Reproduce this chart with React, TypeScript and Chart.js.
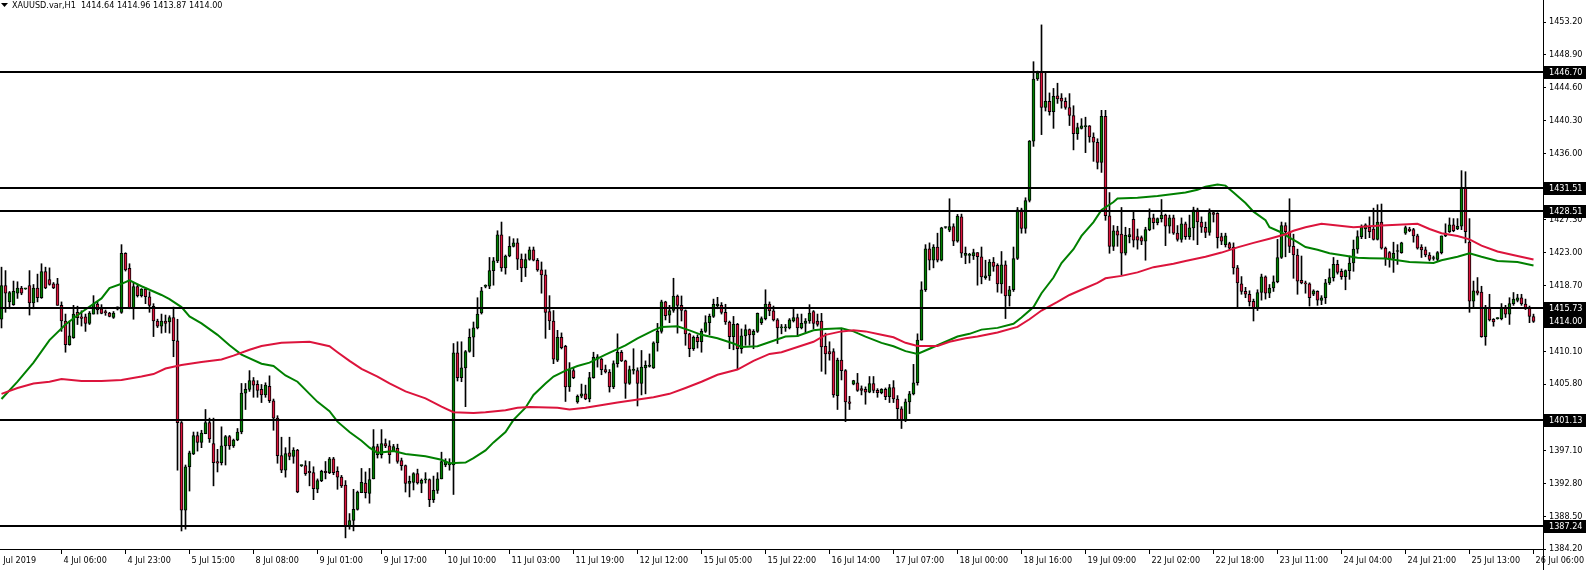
import React, { useEffect, useRef } from 'react';
import { Chart, registerables } from 'chart.js';

Chart.register(...registerables);

const FONT = '"DejaVu Sans Condensed", "DejaVu Sans", sans-serif';
const FONT_SIZE = 9;
const TITLE = 'XAUUSD.var,H1  1414.64 1414.96 1413.87 1414.00';

// Hourly candles, oldest first
const opens = [
  1414.29, 1418.70, 1416.56, 1416.20, 1417.70, 1418.38, 1418.27, 1418.70, 1416.43, 1418.38, 1417.11, 1420.52, 1419.47, 1418.93, 1418.93, 1416.11,
  1414.06, 1410.97, 1411.88, 1415.20, 1414.60, 1414.60, 1413.75, 1414.97, 1416.29, 1415.66, 1415.20, 1415.10, 1414.52, 1415.60, 1415.20, 1422.93,
  1420.97, 1415.75, 1418.56, 1417.38, 1418.25, 1417.24, 1415.97, 1414.06, 1413.38, 1414.06, 1413.93, 1414.52, 1411.47, 1400.75, 1389.29, 1394.97,
  1396.65, 1399.06, 1398.16, 1399.29, 1400.75, 1398.02, 1395.66, 1395.52, 1397.70, 1398.93, 1397.70, 1398.47, 1399.52, 1404.61, 1405.11, 1406.25,
  1405.75, 1405.11, 1404.38, 1405.52, 1403.61, 1401.34, 1396.43, 1394.52, 1396.79, 1396.34, 1397.16, 1395.11, 1395.11, 1394.38, 1394.20, 1392.02,
  1393.16, 1394.38, 1394.20, 1396.02, 1394.38, 1393.61, 1392.57, 1387.25, 1387.93, 1389.38, 1391.57, 1392.84, 1391.48, 1393.38, 1397.61, 1396.57,
  1398.02, 1397.70, 1397.02, 1397.38, 1395.79, 1395.11, 1392.79, 1392.93, 1394.07, 1392.79, 1393.25, 1393.29, 1390.66, 1391.88, 1393.38, 1395.20,
  1395.20, 1395.20, 1409.88, 1406.65, 1407.93, 1410.07, 1411.93, 1413.16, 1415.11, 1418.60, 1418.61, 1420.66, 1421.93, 1425.34, 1421.02, 1422.57,
  1423.84, 1424.29, 1422.16, 1421.02, 1422.11, 1423.38, 1422.02, 1420.75, 1420.11, 1415.29, 1414.06, 1408.93, 1411.93, 1410.75, 1405.43, 1407.57,
  1403.47, 1404.20, 1404.52, 1403.84, 1406.65, 1409.07, 1409.07, 1407.70, 1407.38, 1405.43, 1408.47, 1409.97, 1408.84, 1405.88, 1407.60, 1407.57,
  1405.88, 1407.93, 1408.11, 1407.93, 1411.20, 1412.70, 1416.56, 1414.84, 1415.43, 1417.34, 1416.11, 1415.43, 1412.38, 1410.43, 1411.93, 1411.34,
  1412.70, 1413.84, 1414.66, 1416.02, 1416.11, 1415.20, 1413.93, 1412.02, 1413.61, 1410.43, 1412.11, 1412.93, 1412.25, 1412.70, 1413.84, 1414.38,
  1416.29, 1415.38, 1414.20, 1413.16, 1413.16, 1413.16, 1414.06, 1414.52, 1413.16, 1413.75, 1414.06, 1415.29, 1414.06, 1414.06, 1410.75, 1410.06,
  1410.06, 1404.29, 1408.93, 1407.57, 1403.47, 1405.79, 1405.97, 1405.20, 1405.11, 1404.75, 1405.88, 1404.98, 1404.66, 1405.11, 1404.16, 1405.34,
  1403.84, 1402.57, 1401.11, 1403.47, 1404.52, 1405.97, 1411.56, 1418.15, 1423.52, 1422.02, 1423.75, 1422.02, 1426.30, 1425.97, 1426.43, 1424.52,
  1427.70, 1422.66, 1422.66, 1422.57, 1423.02, 1422.47, 1419.75, 1419.97, 1421.79, 1421.34, 1418.93, 1421.43, 1417.34, 1418.15, 1422.25, 1428.61,
  1426.20, 1429.84, 1437.61, 1445.75, 1446.70, 1442.02, 1442.84, 1441.47, 1443.56, 1443.25, 1442.84, 1442.02, 1440.97, 1438.61, 1439.29, 1439.52,
  1439.61, 1438.16, 1437.47, 1434.84, 1440.88, 1427.84, 1423.84, 1425.88, 1425.43, 1422.93, 1425.11, 1427.38, 1425.11, 1424.97, 1424.52, 1426.02,
  1427.56, 1426.93, 1427.47, 1427.93, 1426.47, 1427.56, 1425.56, 1424.75, 1426.79, 1425.11, 1426.25, 1428.61, 1427.02, 1426.34, 1425.65, 1428.25,
  1428.15, 1425.11, 1424.06, 1424.20, 1423.75, 1421.02, 1418.93, 1417.93, 1417.56, 1416.65, 1415.75, 1417.79, 1419.84, 1417.70, 1418.38, 1419.20,
  1422.38, 1426.56, 1425.75, 1423.84, 1422.70, 1419.38, 1419.06, 1418.93, 1417.56, 1417.93, 1416.75, 1417.11, 1419.06, 1419.75, 1421.47, 1420.57,
  1419.88, 1420.66, 1421.66, 1423.47, 1425.11, 1426.11, 1426.34, 1426.11, 1424.75, 1427.02, 1423.61, 1423.02, 1422.25, 1423.16, 1423.02, 1425.56,
  1426.11, 1426.02, 1425.20, 1423.75, 1423.38, 1422.70, 1422.25, 1422.11, 1423.02, 1425.20, 1425.75, 1426.65, 1426.11, 1426.47, 1431.56, 1424.38,
  1416.65, 1418.02, 1417.84, 1412.02, 1415.88, 1414.29, 1414.38, 1414.38, 1415.88, 1414.97, 1416.34, 1416.75, 1417.11, 1416.29, 1415.75, 1414.64,
];

const highs = [
  1421.11, 1420.66, 1417.93, 1419.29, 1419.20, 1418.60, 1418.35, 1420.66, 1418.84, 1420.20, 1421.56, 1421.11, 1421.02, 1419.10, 1419.65, 1416.56,
  1414.97, 1414.06, 1416.11, 1416.00, 1415.40, 1414.97, 1415.30, 1417.38, 1416.56, 1416.20, 1415.50, 1415.20, 1415.30, 1415.90, 1424.06, 1423.00,
  1421.56, 1419.06, 1418.80, 1418.30, 1418.40, 1417.90, 1416.33, 1414.30, 1414.97, 1414.84, 1414.75, 1415.88, 1414.29, 1400.90, 1395.20, 1397.02,
  1399.52, 1399.52, 1399.75, 1402.47, 1401.34, 1401.34, 1397.25, 1400.20, 1399.07, 1399.07, 1398.60, 1399.98, 1405.88, 1405.88, 1407.56, 1406.66,
  1406.25, 1405.75, 1405.97, 1406.88, 1403.84, 1401.66, 1398.84, 1397.47, 1398.84, 1397.47, 1397.25, 1395.20, 1395.75, 1395.66, 1394.97, 1393.38,
  1394.52, 1395.66, 1396.20, 1396.20, 1394.97, 1393.84, 1393.16, 1388.84, 1392.02, 1391.79, 1394.75, 1394.29, 1394.75, 1399.84, 1397.93, 1399.84,
  1398.61, 1398.38, 1397.90, 1397.93, 1396.11, 1395.20, 1393.75, 1394.20, 1394.66, 1393.38, 1394.20, 1393.38, 1393.75, 1394.20, 1396.88, 1396.02,
  1396.02, 1411.11, 1411.34, 1411.34, 1410.20, 1413.02, 1413.93, 1417.11, 1418.47, 1418.80, 1422.38, 1422.38, 1425.88, 1427.02, 1422.70, 1425.11,
  1424.84, 1424.84, 1422.84, 1422.84, 1423.75, 1423.75, 1422.25, 1421.79, 1420.75, 1417.38, 1415.43, 1412.84, 1412.50, 1410.88, 1408.61, 1407.90,
  1404.38, 1405.80, 1405.66, 1407.34, 1409.97, 1409.66, 1409.16, 1408.29, 1407.70, 1408.84, 1412.38, 1410.20, 1408.93, 1408.16, 1410.43, 1407.93,
  1410.20, 1408.84, 1409.75, 1411.34, 1413.75, 1416.79, 1416.65, 1416.11, 1419.66, 1417.47, 1417.34, 1415.52, 1412.47, 1412.11, 1412.25, 1413.02,
  1414.75, 1414.97, 1416.93, 1417.16, 1416.47, 1416.25, 1414.06, 1414.66, 1413.75, 1413.02, 1413.56, 1413.02, 1412.93, 1415.11, 1414.60, 1418.15,
  1416.56, 1416.02, 1414.38, 1413.61, 1413.61, 1414.38, 1415.66, 1414.97, 1414.97, 1414.38, 1416.20, 1415.43, 1414.97, 1415.06, 1412.47, 1411.34,
  1410.43, 1409.20, 1413.02, 1407.70, 1404.20, 1406.30, 1407.20, 1405.56, 1405.43, 1406.79, 1406.79, 1405.20, 1405.20, 1405.29, 1405.75, 1406.25,
  1404.29, 1402.84, 1403.84, 1404.84, 1408.38, 1412.38, 1419.20, 1424.06, 1424.29, 1424.06, 1425.56, 1426.34, 1426.40, 1430.07, 1426.79, 1428.02,
  1428.06, 1423.75, 1422.93, 1423.47, 1423.02, 1423.75, 1422.02, 1422.11, 1422.38, 1421.56, 1423.16, 1421.93, 1418.61, 1423.75, 1428.93, 1428.84,
  1430.20, 1437.70, 1448.02, 1446.79, 1452.84, 1446.65, 1443.93, 1444.52, 1445.20, 1443.84, 1443.29, 1443.84, 1442.25, 1439.97, 1440.56, 1440.75,
  1439.66, 1438.70, 1437.93, 1441.65, 1441.65, 1430.88, 1426.56, 1426.47, 1428.93, 1426.34, 1426.20, 1428.38, 1426.11, 1425.20, 1426.34, 1428.75,
  1428.06, 1427.56, 1429.97, 1428.06, 1427.93, 1427.93, 1426.56, 1427.56, 1427.02, 1427.93, 1428.97, 1428.84, 1427.70, 1427.02, 1428.75, 1428.38,
  1428.25, 1425.56, 1425.56, 1424.38, 1424.29, 1421.34, 1419.88, 1418.47, 1418.02, 1416.93, 1418.15, 1420.20, 1419.97, 1418.84, 1419.97, 1424.75,
  1427.02, 1426.93, 1430.07, 1425.43, 1423.47, 1422.57, 1419.29, 1419.06, 1418.15, 1418.02, 1417.38, 1419.52, 1420.88, 1422.38, 1422.02, 1420.88,
  1420.75, 1422.57, 1424.66, 1425.88, 1426.65, 1426.79, 1427.70, 1428.84, 1429.29, 1429.38, 1423.75, 1423.16, 1424.38, 1424.06, 1424.38, 1426.50,
  1426.34, 1426.20, 1425.43, 1424.06, 1423.75, 1423.02, 1422.57, 1423.16, 1425.20, 1426.79, 1427.56, 1427.47, 1427.47, 1433.75, 1433.61, 1427.47,
  1419.29, 1419.75, 1418.61, 1416.11, 1417.56, 1414.38, 1414.50, 1416.34, 1416.11, 1417.11, 1417.79, 1417.56, 1417.56, 1416.93, 1416.02, 1414.96,
];

const lows = [
  1413.15, 1415.20, 1415.66, 1416.11, 1417.02, 1417.50, 1418.20, 1414.84, 1415.66, 1416.56, 1417.02, 1418.29, 1418.75, 1418.30, 1416.11, 1412.70,
  1409.97, 1410.88, 1411.79, 1413.60, 1413.40, 1412.70, 1413.60, 1414.97, 1414.97, 1415.00, 1414.80, 1414.60, 1414.40, 1415.50, 1415.06, 1420.60,
  1415.66, 1414.29, 1417.20, 1417.20, 1416.33, 1415.20, 1412.02, 1413.20, 1412.47, 1412.56, 1412.47, 1409.38, 1394.52, 1386.56, 1386.80, 1391.79,
  1396.56, 1397.02, 1397.47, 1399.29, 1398.16, 1392.47, 1394.29, 1395.20, 1395.20, 1397.25, 1397.50, 1398.38, 1399.29, 1402.47, 1404.84, 1404.07,
  1404.07, 1403.38, 1404.07, 1403.38, 1399.75, 1395.43, 1394.20, 1393.61, 1395.88, 1395.43, 1391.57, 1395.00, 1393.84, 1392.47, 1390.66, 1391.57,
  1393.02, 1393.38, 1394.07, 1393.93, 1392.02, 1392.25, 1385.66, 1386.79, 1386.57, 1389.29, 1391.57, 1390.88, 1390.20, 1393.38, 1396.11, 1396.11,
  1397.47, 1395.43, 1397.00, 1395.43, 1394.52, 1391.66, 1391.02, 1391.93, 1392.70, 1391.57, 1392.84, 1389.75, 1390.29, 1391.48, 1393.38, 1394.97,
  1394.52, 1391.34, 1406.20, 1406.11, 1402.84, 1409.97, 1409.38, 1413.02, 1414.97, 1418.40, 1418.29, 1418.75, 1421.70, 1420.57, 1420.20, 1422.47,
  1423.75, 1420.79, 1419.20, 1419.88, 1422.02, 1421.93, 1420.57, 1417.70, 1411.79, 1412.93, 1408.47, 1408.75, 1410.40, 1403.52, 1404.84, 1406.50,
  1403.29, 1404.00, 1403.75, 1403.47, 1406.56, 1408.02, 1407.02, 1407.25, 1404.75, 1405.20, 1408.02, 1408.75, 1403.93, 1405.75, 1407.11, 1402.93,
  1404.38, 1404.52, 1408.02, 1407.84, 1410.11, 1412.47, 1414.20, 1413.84, 1415.20, 1412.47, 1414.06, 1410.88, 1409.38, 1410.20, 1410.52, 1409.97,
  1412.56, 1412.25, 1414.52, 1415.66, 1414.97, 1413.61, 1410.43, 1410.29, 1407.70, 1409.84, 1410.88, 1410.88, 1410.43, 1412.56, 1413.60, 1414.20,
  1414.75, 1414.06, 1411.11, 1412.38, 1412.70, 1413.02, 1413.93, 1412.02, 1413.02, 1412.56, 1413.75, 1413.02, 1413.38, 1407.47, 1407.11, 1408.93,
  1404.07, 1402.47, 1406.34, 1400.88, 1402.47, 1405.70, 1404.84, 1404.38, 1403.16, 1404.66, 1404.66, 1404.07, 1404.52, 1403.75, 1403.38, 1403.38,
  1401.11, 1399.98, 1400.88, 1401.93, 1404.38, 1405.66, 1411.56, 1417.93, 1420.75, 1421.02, 1421.79, 1421.93, 1426.20, 1425.75, 1423.93, 1424.38,
  1422.38, 1421.56, 1421.66, 1422.11, 1418.75, 1418.93, 1419.52, 1419.38, 1420.57, 1417.84, 1417.70, 1414.38, 1416.02, 1417.93, 1422.11, 1425.56,
  1425.56, 1429.65, 1436.93, 1445.56, 1438.47, 1441.56, 1441.02, 1439.29, 1442.56, 1441.93, 1441.79, 1439.66, 1436.47, 1437.84, 1439.20, 1436.11,
  1437.47, 1434.97, 1433.97, 1433.52, 1427.25, 1422.93, 1423.29, 1423.84, 1420.11, 1422.70, 1424.29, 1423.75, 1423.47, 1424.06, 1422.02, 1425.88,
  1426.11, 1426.65, 1427.02, 1423.93, 1425.56, 1425.40, 1424.52, 1424.38, 1424.75, 1424.75, 1424.66, 1424.06, 1425.65, 1424.97, 1425.29, 1427.02,
  1423.61, 1424.06, 1423.75, 1423.38, 1420.20, 1415.75, 1417.56, 1417.11, 1416.02, 1414.06, 1415.43, 1416.79, 1416.93, 1417.11, 1417.93, 1419.06,
  1422.25, 1422.47, 1423.02, 1419.65, 1417.56, 1418.93, 1417.70, 1416.02, 1417.38, 1416.11, 1416.20, 1416.34, 1418.84, 1419.29, 1420.20, 1419.52,
  1418.15, 1419.52, 1420.57, 1422.93, 1424.84, 1424.84, 1424.97, 1424.66, 1424.66, 1423.47, 1421.34, 1421.11, 1420.43, 1421.47, 1422.93, 1425.40,
  1425.75, 1424.38, 1423.47, 1422.38, 1422.47, 1421.93, 1422.02, 1421.93, 1422.84, 1425.11, 1425.65, 1425.75, 1426.02, 1426.02, 1424.29, 1415.20,
  1415.88, 1417.47, 1411.93, 1410.88, 1414.06, 1413.38, 1414.30, 1414.20, 1414.52, 1413.61, 1416.11, 1416.56, 1416.11, 1415.56, 1413.84, 1413.87,
];

const closes = [
  1418.70, 1417.70, 1417.79, 1417.93, 1418.38, 1417.70, 1418.30, 1416.43, 1418.38, 1417.11, 1420.52, 1418.38, 1418.84, 1418.38, 1416.11, 1414.06,
  1410.97, 1412.11, 1414.97, 1414.50, 1414.40, 1413.75, 1415.11, 1416.29, 1415.52, 1415.06, 1415.15, 1414.65, 1415.11, 1415.90, 1422.93, 1420.75,
  1415.75, 1418.56, 1417.38, 1418.25, 1417.24, 1416.11, 1414.06, 1413.38, 1414.06, 1413.75, 1414.52, 1411.47, 1400.75, 1389.29, 1394.97, 1396.79,
  1399.06, 1398.15, 1399.38, 1400.75, 1398.61, 1395.52, 1395.43, 1397.70, 1398.93, 1397.70, 1398.47, 1399.52, 1404.61, 1405.11, 1406.25, 1405.66,
  1404.98, 1404.38, 1405.66, 1403.61, 1401.34, 1396.43, 1394.52, 1396.70, 1396.34, 1397.16, 1391.66, 1395.11, 1394.07, 1394.20, 1392.11, 1393.16,
  1394.38, 1394.20, 1396.02, 1394.20, 1393.61, 1392.47, 1387.25, 1387.93, 1389.38, 1391.66, 1392.93, 1391.57, 1393.29, 1397.61, 1396.57, 1398.02,
  1397.70, 1396.57, 1397.61, 1395.66, 1395.11, 1392.79, 1393.07, 1394.07, 1392.84, 1393.20, 1393.25, 1390.66, 1391.88, 1393.38, 1395.66, 1395.66,
  1395.43, 1409.88, 1406.65, 1407.93, 1410.07, 1411.93, 1413.16, 1414.97, 1418.02, 1418.60, 1420.66, 1421.93, 1425.34, 1421.02, 1422.57, 1423.84,
  1424.29, 1422.16, 1421.02, 1422.11, 1423.38, 1422.02, 1420.75, 1420.11, 1415.20, 1414.06, 1409.07, 1411.93, 1410.56, 1405.43, 1407.70, 1406.65,
  1404.20, 1404.52, 1403.84, 1406.65, 1409.29, 1409.38, 1407.70, 1407.38, 1405.43, 1408.47, 1409.97, 1408.84, 1405.88, 1407.70, 1407.60, 1405.88,
  1408.02, 1408.25, 1408.29, 1411.20, 1412.70, 1416.56, 1414.75, 1415.43, 1417.34, 1416.11, 1415.43, 1412.38, 1410.43, 1411.93, 1411.34, 1412.70,
  1413.84, 1414.66, 1416.25, 1416.29, 1415.20, 1413.93, 1412.02, 1413.61, 1410.43, 1412.11, 1412.93, 1412.25, 1412.70, 1415.06, 1414.38, 1416.29,
  1415.38, 1414.20, 1413.16, 1413.16, 1413.16, 1414.20, 1414.52, 1413.16, 1413.75, 1414.06, 1415.11, 1413.75, 1413.61, 1410.66, 1409.75, 1409.75,
  1404.38, 1408.93, 1407.57, 1403.47, 1403.25, 1406.25, 1404.98, 1404.98, 1404.75, 1405.88, 1404.98, 1404.66, 1405.11, 1404.16, 1405.34, 1403.84,
  1402.57, 1401.11, 1403.47, 1404.52, 1405.97, 1411.56, 1418.15, 1423.52, 1422.02, 1423.75, 1422.02, 1426.25, 1426.30, 1426.43, 1424.52, 1427.79,
  1422.93, 1422.93, 1422.66, 1423.02, 1422.47, 1419.84, 1419.97, 1421.79, 1421.20, 1418.93, 1421.43, 1417.34, 1418.15, 1422.25, 1428.61, 1426.20,
  1429.84, 1437.61, 1445.75, 1446.56, 1442.02, 1442.84, 1441.47, 1443.47, 1443.16, 1442.84, 1442.02, 1440.97, 1438.61, 1439.38, 1439.61, 1439.52,
  1438.16, 1437.47, 1434.84, 1440.88, 1427.84, 1423.84, 1425.88, 1425.29, 1422.93, 1425.29, 1425.38, 1424.66, 1424.66, 1424.52, 1426.02, 1427.56,
  1426.93, 1427.47, 1427.93, 1426.47, 1427.56, 1425.56, 1424.75, 1426.79, 1425.11, 1426.25, 1428.61, 1427.02, 1426.34, 1425.65, 1428.25, 1428.02,
  1424.97, 1424.52, 1425.20, 1423.61, 1421.02, 1419.06, 1417.93, 1417.56, 1416.56, 1415.75, 1417.79, 1419.84, 1417.70, 1418.38, 1419.20, 1422.38,
  1426.56, 1425.75, 1423.84, 1422.70, 1419.29, 1419.06, 1418.93, 1417.11, 1418.02, 1416.79, 1417.11, 1419.06, 1419.75, 1421.47, 1420.43, 1419.88,
  1420.66, 1421.66, 1423.47, 1425.11, 1426.34, 1426.65, 1425.75, 1424.75, 1427.02, 1423.61, 1422.25, 1422.11, 1422.93, 1423.16, 1424.29, 1426.29,
  1425.88, 1425.20, 1423.61, 1423.38, 1422.70, 1422.11, 1422.25, 1423.02, 1425.20, 1425.56, 1426.65, 1425.88, 1426.47, 1431.56, 1425.75, 1416.65,
  1418.02, 1417.70, 1412.02, 1415.88, 1414.20, 1413.93, 1414.38, 1415.75, 1414.97, 1416.34, 1416.93, 1417.11, 1416.29, 1415.75, 1414.66, 1414.00,
];

// Moving averages (bar index, value)
const greenMaBar = [
  0, 4, 8, 12, 16, 20, 25, 27, 30, 32, 35, 37, 40, 42, 45, 47, 50, 54, 57, 60, 65, 68, 71, 74, 77, 79, 82, 84, 87, 90, 92, 94, 98,
  101, 106, 110, 112, 116, 118, 121, 123, 126, 128, 131, 133, 136, 138, 141, 144, 147, 151, 156, 159, 163, 165, 169, 172, 175, 179,
  183, 185, 189, 193, 196, 199, 203, 206, 210, 213, 216, 220, 223, 226, 229, 232, 236, 239, 242, 245, 249, 253, 255, 258, 260, 263,
  265, 268, 270, 273, 275, 278, 279, 284, 289, 294, 296, 299, 301, 304, 306, 308, 311, 313, 316, 317, 320, 322, 324, 326, 329, 332,
  336, 339, 342, 346, 352, 358, 360, 364, 367, 370, 374, 379, 383,
];
const greenMaVal = [
  1403.84, 1406.11, 1408.61, 1411.56, 1413.61, 1415.20, 1417.02, 1418.38, 1418.93, 1419.38, 1418.61, 1418.15, 1417.47, 1416.93, 1415.88, 1414.66, 1413.75, 1412.25, 1410.88, 1409.66, 1408.47, 1408.16, 1406.93, 1406.11, 1404.52, 1403.47, 1402.25, 1400.88, 1399.52, 1398.38, 1397.47, 1396.79, 1397.02,
  1396.65, 1396.34, 1395.88, 1395.43, 1395.52, 1396.11, 1397.11, 1398.16, 1399.52, 1401.11, 1402.70, 1404.38, 1405.88, 1406.79, 1407.57, 1408.16, 1408.61, 1409.66, 1410.88, 1411.79, 1412.84, 1413.29, 1413.38, 1412.84, 1412.25, 1411.79,
  1411.11, 1410.66, 1410.75, 1411.47, 1412.02, 1412.11, 1412.84, 1413.02, 1413.11, 1412.70, 1412.02, 1411.20, 1410.75, 1410.11, 1409.75, 1410.43, 1411.34, 1412.02, 1412.38, 1412.93, 1413.16, 1413.70, 1414.52, 1415.88, 1417.70, 1419.75,
  1421.66, 1423.47, 1425.20, 1427.02, 1428.61, 1429.65, 1430.11, 1430.20, 1430.43, 1430.75, 1430.88, 1431.25, 1431.65, 1431.93, 1431.79, 1430.88, 1429.52, 1428.38, 1427.25, 1426.34, 1425.65, 1424.97, 1424.38, 1423.75, 1423.38, 1422.93,
  1422.61, 1422.34, 1422.29, 1422.25, 1421.79, 1421.66, 1422.02, 1422.47, 1422.93, 1422.47, 1421.93, 1421.79, 1421.34,
];

const redMaBar = [
  0, 4, 8, 12, 15, 20, 25, 30, 35, 38, 41, 45, 50, 55, 58, 62, 65, 70, 77, 82, 84, 87, 90, 94, 97, 101, 106, 110, 113, 118, 121, 126,
  129, 132, 139, 142, 146, 154, 163, 167, 171, 175, 179, 184, 188, 192, 195, 199, 203, 206, 210, 213, 216, 220, 223, 226, 229, 234,
  237, 241, 244, 249, 254, 257, 260, 264, 267, 270, 274, 276, 280, 284, 288, 293, 296, 301, 305, 309, 313, 317, 321, 323, 326, 330,
  334, 338, 342, 345, 349, 354, 357, 360, 364, 367, 370, 374, 379, 383,
];
const redMaVal = [
  1404.52, 1405.29, 1405.88, 1406.11, 1406.47, 1406.20, 1406.20, 1406.34, 1406.79, 1407.11, 1407.84, 1408.29, 1408.70, 1409.02, 1409.52, 1410.29, 1410.79, 1411.20, 1411.34, 1410.75, 1409.97, 1408.84, 1407.79, 1406.79, 1405.88, 1404.84, 1403.93, 1402.84, 1402.11, 1402.02, 1402.11, 1402.38,
  1402.70, 1402.79, 1402.70, 1402.47, 1402.70, 1403.38, 1404.07, 1404.52, 1405.29, 1406.11, 1407.02, 1407.70, 1408.84, 1409.75, 1409.97, 1410.66, 1411.34, 1412.25, 1412.70, 1412.84, 1412.70, 1412.25, 1411.93, 1411.20, 1410.79, 1410.79,
  1411.34, 1411.79, 1412.02, 1412.56, 1413.29, 1414.29, 1415.43, 1416.56, 1417.47, 1418.15, 1419.06, 1419.65, 1419.97, 1420.43, 1421.11, 1421.56, 1421.93, 1422.47, 1423.02, 1423.70, 1424.29, 1424.84, 1425.43, 1425.88, 1426.34, 1426.79,
  1426.56, 1426.34, 1426.47, 1426.56, 1426.65, 1426.79, 1426.11, 1425.56, 1425.20, 1424.75, 1423.93, 1423.16, 1422.57, 1422.11,
];

// Horizontal levels and the current bid
const levelValues = [1446.7, 1431.51, 1428.51, 1415.73, 1401.13, 1387.24];
const lastPrice = 1414.0;

// Axis ticks
const yTickValues = [1453.2, 1448.9, 1444.6, 1440.3, 1436.0, 1427.3, 1423.0, 1418.7, 1410.1, 1405.8, 1397.1, 1392.8, 1388.5, 1384.2];
const xTickLabels = [
  '3 Jul 2019', '4 Jul 06:00', '4 Jul 23:00', '5 Jul 15:00', '8 Jul 08:00', '9 Jul 01:00', '9 Jul 17:00', '10 Jul 10:00',
  '11 Jul 03:00', '11 Jul 19:00', '12 Jul 12:00', '15 Jul 05:00', '15 Jul 22:00', '16 Jul 14:00', '17 Jul 07:00', '18 Jul 00:00',
  '18 Jul 16:00', '19 Jul 09:00', '22 Jul 02:00', '22 Jul 18:00', '23 Jul 11:00', '24 Jul 04:00', '24 Jul 21:00', '25 Jul 13:00',
  '26 Jul 06:00',
];
const xTickBars = [
  -2, 15, 31, 47, 63, 79, 95, 111, 127, 143, 159, 175, 191, 207, 223, 239, 255, 271, 287, 303, 319, 335, 351, 367, 383,
];

const GREEN = '#008000';
const RED = '#dc143c';

export default function App() {
  const ref = useRef<HTMLCanvasElement | null>(null);

  useEffect(() => {
    document.body.style.margin = '0';
    const canvas = ref.current;
    if (!canvas) return;
    const idx = opens.map((_, i) => i);
    const fontStr = `${FONT_SIZE}px ${FONT}`;

    const overlay = {
      id: 'mtOverlay',
      afterDatasetsDraw(chart: any) {
        const { ctx, chartArea, scales } = chart;
        ctx.save();
        ctx.fillStyle = '#000';
        for (const v of levelValues) {
          const y = Math.round(scales.y.getPixelForValue(v));
          ctx.fillRect(chartArea.left, y - 1, chartArea.right - chartArea.left, 2);
        }
        ctx.restore();
      },
      afterDraw(chart: any) {
        const { ctx, chartArea, scales, width, height } = chart;
        const axisX = Math.round(chartArea.right);
        ctx.save();
        ctx.fillStyle = '#000';
        ctx.fillRect(axisX, 0, 1, height);
        ctx.font = fontStr;
        ctx.textBaseline = 'middle';
        ctx.textAlign = 'left';
        for (const v of [...levelValues, lastPrice]) {
          const y = Math.round(scales.y.getPixelForValue(v));
          ctx.fillStyle = '#000';
          ctx.fillRect(axisX + 1, y - 6, width - axisX - 1, 13);
          ctx.fillStyle = '#fff';
          ctx.fillText(v.toFixed(2), axisX + 6, y + 0.5);
        }
        // chart title
        ctx.fillStyle = '#000';
        ctx.beginPath();
        ctx.moveTo(1, 3);
        ctx.lineTo(8, 3);
        ctx.lineTo(4.5, 7);
        ctx.closePath();
        ctx.fill();
        ctx.textBaseline = 'middle';
        ctx.fillText(TITLE, 12, 5.5);
        ctx.restore();
      },
    };

    const chart = new Chart(canvas, {
      type: 'bar',
      data: {
        datasets: [
          {
            type: 'line',
            data: redMaBar.map((b, k) => ({ x: b, y: redMaVal[k] })),
            borderColor: RED,
            borderWidth: 2,
            pointRadius: 0,
            tension: 0,
            order: 0,
          } as any,
          {
            type: 'line',
            data: greenMaBar.map((b, k) => ({ x: b, y: greenMaVal[k] })),
            borderColor: GREEN,
            borderWidth: 2,
            pointRadius: 0,
            tension: 0,
            order: 1,
          } as any,
          {
            type: 'bar',
            data: idx.map((i) => ({ x: i, y: [opens[i], closes[i]] })),
            backgroundColor: idx.map((i) => (closes[i] >= opens[i] ? GREEN : RED)),
            borderColor: '#000',
            borderWidth: 1,
            borderSkipped: false,
            barThickness: 3,
            grouped: false,
            minBarLength: 1,
            order: 2,
          } as any,
          {
            type: 'bar',
            data: idx.map((i) => ({ x: i, y: [lows[i], highs[i]] })),
            backgroundColor: '#000',
            borderWidth: 0,
            barThickness: 1,
            grouped: false,
            order: 3,
          } as any,
        ],
      },
      options: {
        responsive: false,
        maintainAspectRatio: false,
        animation: false,
        events: [],
        layout: { padding: 0, autoPadding: false } as any,
        plugins: { legend: { display: false }, tooltip: { enabled: false }, title: { display: false } },
        scales: {
          x: {
            type: 'linear',
            position: 'bottom',
            min: -0.375,
            max: 385.375,
            offset: false,
            grid: { display: true, drawOnChartArea: false, drawTicks: true, tickLength: 5, color: '#000', tickColor: '#000', offset: false },
            border: { display: true, color: '#000', width: 1 },
            ticks: {
              autoSkip: false,
              maxRotation: 0,
              minRotation: 0,
              align: 'start',
              labelOffset: 2,
              padding: 1,
              color: '#000',
              font: { family: FONT, size: FONT_SIZE },
              callback: (v: any) => {
                const k = xTickBars.indexOf(Math.round(Number(v)));
                return k >= 0 ? xTickLabels[k] : '';
              },
            },
            afterBuildTicks: (s: any) => {
              s.ticks = xTickBars.map((b) => ({ value: b }));
            },
            afterFit: (s: any) => {
              s.height = 21;
              s.paddingLeft = 0;
              s.paddingRight = 0;
            },
          } as any,
          y: {
            type: 'linear',
            position: 'right',
            min: 1384.2,
            max: 1456.1,
            grid: { display: true, drawOnChartArea: false, drawTicks: true, tickLength: 3, color: '#000', tickColor: '#000' },
            border: { display: true, color: '#000', width: 1 },
            ticks: {
              autoSkip: false,
              padding: 3,
              color: '#000',
              font: { family: FONT, size: FONT_SIZE },
              callback: (v: any) => Number(v).toFixed(2),
            },
            afterBuildTicks: (s: any) => {
              s.ticks = yTickValues.map((v) => ({ value: v }));
            },
            afterFit: (s: any) => {
              s.width = 43;
              s.paddingTop = 0;
              s.paddingBottom = 0;
            },
          } as any,
        },
      },
      plugins: [overlay],
    });

    return () => chart.destroy();
  }, []);

  return (
    <div style={{ position: 'fixed', left: 0, top: 0, width: 1586, height: 570, background: '#fff' }}>
      <canvas ref={ref} width={1586} height={570} style={{ display: 'block', width: 1586, height: 570 }} />
    </div>
  );
}
